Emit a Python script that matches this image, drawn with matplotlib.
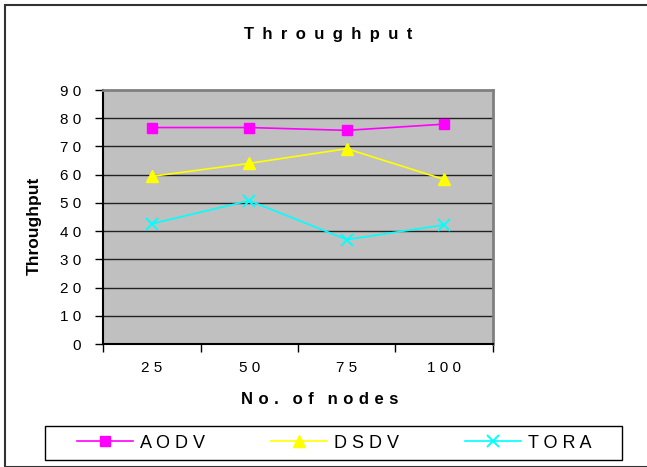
import matplotlib
matplotlib.use("Agg")
import matplotlib.pyplot as plt
from matplotlib.patches import Rectangle

plt.rcParams['font.family'] = ['Liberation Sans', 'DejaVu Sans']

# data
nodes = ['25', '50', '75', '100']
aodv = [76.7, 76.7, 75.7, 77.9]
dsdv = [59.4, 64.0, 69.2, 58.3]
tora = [42.6, 50.8, 37.0, 42.2]
yticks = [0, 10, 20, 30, 40, 50, 60, 70, 80, 90]


def spaced(s, sep=' '):
    return sep.join(s)


fig = plt.figure(figsize=(6.47, 4.67), dpi=100)
W, H = 647, 467

# outer frame of the chart
fig.patches.append(Rectangle((4.5 / W, 0), 1.2, (H - 5) / H, transform=fig.transFigure,
                             fill=False, edgecolor='#333333', linewidth=1.5))

ax = fig.add_axes([103 / W, (H - 344) / H, (493 - 103) / W, (344 - 90) / H])
ax.set_facecolor('#c0c0c0')

xs = [i + 0.5 for i in range(len(nodes))]
ax.plot(xs, aodv, color='#ff00ff', marker='s', markersize=7, linewidth=1.2, label=spaced('AODV'))
ax.plot(xs, dsdv, color='#ffff00', marker='^', markersize=9, linewidth=1.2, label=spaced('DSDV'))
ax.plot(xs, tora, color='#00ffff', marker='x', markersize=9, markeredgewidth=1.4,
        linewidth=1.2, label=spaced('TORA'))

ax.set_xlim(0, len(nodes))
ax.set_ylim(0, 90)
ax.set_yticks(yticks)
ax.set_yticklabels([spaced(str(v)) for v in yticks], fontsize=11)
for y in yticks[1:-1]:
    ax.axhline(y, color='#222222', linewidth=1, zorder=0.5)

ax.set_xticks(range(len(nodes) + 1))
ax.set_xticklabels([])
ax.set_xticks(xs, minor=True)
ax.set_xticklabels([spaced(n) for n in nodes], minor=True, fontsize=11)
ax.tick_params(axis='x', which='minor', length=0, pad=12)
ax.tick_params(axis='x', which='major', length=6, width=1, direction='out')
ax.tick_params(axis='y', length=6, width=1, direction='out', pad=10)

for side in ['left', 'bottom']:
    ax.spines[side].set_color('black')
    ax.spines[side].set_linewidth(1.5)
for side in ['top', 'right']:
    ax.spines[side].set_color('#808080')
    ax.spines[side].set_linewidth(2)

fig.text(328 / W, 1 - 35 / H, spaced('Throughput', '\u2002'), ha='center', va='center',
         fontsize=12, fontweight='bold')
xlabel = '\u2002\u2004'.join(spaced(w, '\u2004') for w in 'No. of nodes'.split())
fig.text(320 / W, 1 - 399 / H, xlabel, ha='center', va='center',
         fontsize=12, fontweight='bold')
fig.text(34 / W, 1 - 226 / H, 'Throughput', ha='center', va='center', rotation=90,
         fontsize=12.5, fontweight='bold')

# legend box
fig.patches.append(Rectangle((44.6 / W, (H - 460) / H), (622 - 44.6) / W, 34 / H,
                             transform=fig.transFigure, fill=False,
                             edgecolor='black', linewidth=1))
leg = fig.legend(loc='center left', ncol=3, bbox_to_anchor=(77 / W, 1 - 443 / H),
                 fontsize=13, handlelength=3.1, handletextpad=0.39,
                 columnspacing=3.65, frameon=False, borderpad=0, borderaxespad=0)

fig.savefig('out.png', dpi=100)
